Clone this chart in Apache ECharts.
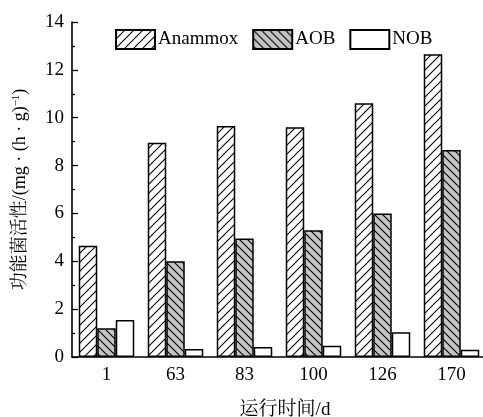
<!DOCTYPE html>
<html><head><meta charset="utf-8">
<script src="https://cdn.jsdelivr.net/npm/echarts@6/dist/echarts.min.js"></script>
<style>html,body{margin:0;padding:0;background:#fff}#c{width:483px;height:417px}</style>
</head><body><div id="c"></div>
<script>
const categories = ['1', '63', '83', '100', '126', '170'];
const anammox = [4.65, 8.95, 9.65, 9.6, 10.6, 12.65];
const aob = [1.2, 4.0, 4.95, 5.3, 6.0, 8.65];
const nob = [1.55, 0.33, 0.42, 0.47, 1.03, 0.3];
const seriesNames = ['Anammox', 'AOB', 'NOB'];

const FONT = "'Liberation Serif','Noto Serif CJK SC','Noto Sans CJK SC',serif";

function hatch(bg, dir, size) {
  const c = document.createElement('canvas');
  c.width = size; c.height = size;
  const g = c.getContext('2d');
  g.fillStyle = bg; g.fillRect(0, 0, size, size);
  if (dir === 0) return c;
  g.strokeStyle = '#000'; g.lineWidth = 1.1; g.beginPath();
  if (dir > 0) {
    g.moveTo(-1, size + 1); g.lineTo(size + 1, -1);
    g.moveTo(-1, 1); g.lineTo(1, -1);
    g.moveTo(size - 1, size + 1); g.lineTo(size + 1, size - 1);
  } else {
    g.moveTo(-1, -1); g.lineTo(size + 1, size + 1);
    g.moveTo(size - 1, -1); g.lineTo(size + 1, 1);
    g.moveTo(-1, size - 1); g.lineTo(1, size + 1);
  }
  g.stroke();
  return c;
}

const fills = [
  { image: hatch('#ffffff', 1, 9), repeat: 'repeat' },
  { image: hatch('#c4c4c4', -1, 8), repeat: 'repeat' },
  '#ffffff'
];
const dataSets = [anammox, aob, nob];

const chart = echarts.init(document.getElementById('c'), null, { renderer: 'canvas' });
chart.setOption({
  animation: false,
  backgroundColor: '#fff',
  textStyle: { fontFamily: FONT, color: '#000' },
  legend: {
    left: 110, top: 24,
    itemWidth: 39, itemHeight: 19, itemGap: 14,
    icon: 'rect',
    textStyle: { fontFamily: FONT, fontSize: 19, color: '#000', padding: [0, 0, 0, -2] },
    data: seriesNames
  },
  grid: { left: 72, top: 22, width: 414, height: 335, containLabel: false, outerBoundsMode: 'none' },
  xAxis: {
    type: 'category',
    data: categories,
    name: '运行时间/d',
    nameLocation: 'middle',
    nameGap: 44,
    nameTextStyle: { fontFamily: FONT, fontSize: 19, color: '#000', padding: [0, 0, 0, 12] },
    axisLine: { lineStyle: { color: '#000', width: 1.6 } },
    axisTick: { show: false },
    axisLabel: { fontFamily: FONT, fontSize: 19, color: '#000', margin: 9 }
  },
  yAxis: {
    type: 'value',
    min: 0, max: 14, interval: 2,
    name: '{a|功能菌活性/(mg · (h · g)}{s|−1}{a|)}',
    nameLocation: 'middle',
    nameGap: 42,
    nameTextStyle: {
      fontFamily: FONT, fontSize: 18, color: '#000',
      rich: {
        a: { fontFamily: FONT, fontSize: 18, color: '#000' },
        s: { fontFamily: FONT, fontSize: 11, color: '#000', verticalAlign: 'top', padding: [0, 0, 8, 0] }
      }
    },
    axisLine: { show: true, lineStyle: { color: '#000', width: 1.6 } },
    axisTick: { show: true, inside: true, length: 6, lineStyle: { color: '#000', width: 1.3 } },
    minorTick: { show: true, splitNumber: 2, length: 3, lineStyle: { color: '#000', width: 1.3 } },
    splitLine: { show: false },
    axisLabel: { fontFamily: FONT, fontSize: 19, color: '#000', margin: 8 }
  },
  series: seriesNames.map((n, i) => ({
    name: n,
    type: 'bar',
    data: dataSets[i],
    barWidth: 18.5,
    barGap: '0%',
    itemStyle: { color: fills[i], borderColor: '#000', borderWidth: 1.5 }
  }))
});
</script></body></html>
